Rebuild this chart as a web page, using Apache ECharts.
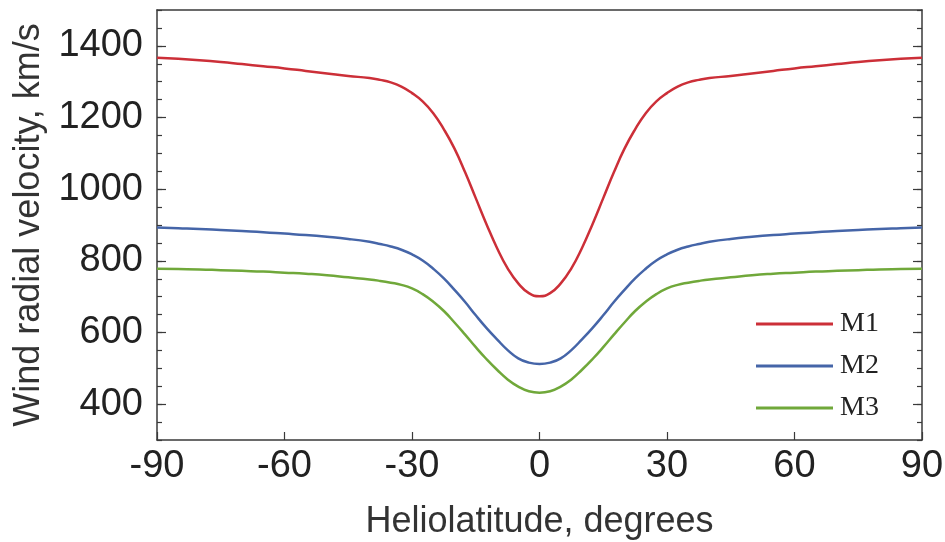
<!DOCTYPE html>
<html>
<head>
<meta charset="utf-8">
<script src="https://cdn.jsdelivr.net/npm/echarts@6/dist/echarts.min.js"></script>
<style>
html,body{margin:0;padding:0;background:#fff;}
#chart{width:945px;height:542px;}
</style>
</head>
<body>
<div id="chart"></div>
<script>
// Data
const latitudes = [-90,-85,-80,-75,-70,-65,-60,-55,-50,-45,-40,-37.5,-35,-32.5,-30,-27.5,-25,-22.5,-20,-17.5,-15,-12.5,-10,-7.5,-5,-2.5,0,2.5,5,7.5,10,12.5,15,17.5,20,22.5,25,27.5,30,32.5,35,37.5,40,45,50,55,60,65,70,75,80,85,90];
const m1 = [1367,1364,1360,1355,1349,1343,1337,1330,1323,1316,1310,1305,1298,1286,1268,1245,1212,1167,1113,1047,975,903,836,779,737,710,701,710,737,779,836,903,975,1047,1113,1167,1212,1245,1268,1286,1298,1305,1310,1316,1323,1330,1337,1343,1349,1355,1360,1364,1367];
const m2 = [893,891,889,886,883,880,876,872,867,861,853,847,840,831,818,801,778,751,719,685,648,613,581,551,528,516,512,516,528,551,581,613,648,685,719,751,778,801,818,831,840,847,853,861,867,872,876,880,883,886,889,891,893];
const m3 = [778,777,776,774,772,770,767,764,760,754,748,744,739,733,723,707,686,660,628,594,559,526,496,469,449,436,432,436,449,469,496,526,559,594,628,660,686,707,723,733,739,744,748,754,760,764,767,770,772,774,776,777,778];
const seriesNames = ['M1','M2','M3'];
const xTicks = [-90,-60,-30,0,30,60,90];
const yLabels = [400,600,800,1000,1200,1400];

const colors = ['#cc2f38','#4565a8','#70a83a'];
const pairs = arr => latitudes.map((x,i)=>[x,arr[i]]);
const sans = '"Liberation Sans", Arial, sans-serif';
const axisColor = '#3a3a3a';
const line = {show:true,onZero:false,lineStyle:{color:axisColor,width:1.5}};

const chart = echarts.init(document.getElementById('chart'));
const option = {
  backgroundColor:'#ffffff',
  animation:false,
  grid:{left:157,right:23,top:10,bottom:102,containLabel:false,outerBoundsMode:'none'},
  legend:{
    orient:'vertical',
    left:751, top:304,
    itemWidth:77, itemHeight:3, itemGap:12,
    icon:'rect',
    textStyle:{fontFamily:'"Liberation Serif","Times New Roman",serif',fontSize:28,color:'#222',lineHeight:30,padding:[0,0,0,2]},
    data:seriesNames
  },
  xAxis:[
    {type:'value',position:'bottom',min:-90,max:90,interval:30,
     axisLine:line,
     axisTick:{show:true,inside:true,length:8,lineStyle:{color:axisColor,width:1.2}},
     axisLabel:{fontFamily:sans,fontSize:38,color:'#222',margin:8,customValues:xTicks},
     splitLine:{show:false},
     name:'Heliolatitude, degrees',nameLocation:'middle',nameGap:64,
     nameTextStyle:{fontFamily:sans,fontSize:36,color:'#333'}},
    {type:'value',position:'top',min:-90,max:90,interval:30,
     axisLine:line,
     axisTick:{show:false},axisLabel:{show:false},splitLine:{show:false}}
  ],
  yAxis:[
    {type:'value',position:'left',min:300,max:1500,interval:50,
     axisLine:line,
     axisTick:{show:true,inside:true,length:5,lineStyle:{color:axisColor,width:1.2}},
     axisLabel:{show:false},splitLine:{show:false}},
    {type:'value',position:'left',min:300,max:1500,interval:100,
     axisLine:{show:false,onZero:false},
     axisTick:{show:true,inside:true,length:9,customValues:yLabels,lineStyle:{color:axisColor,width:1.2}},
     axisLabel:{fontFamily:sans,fontSize:38,color:'#222',margin:14,customValues:yLabels,
       formatter:v=> (v%200===0 && v>=400 && v<=1400) ? String(v) : ''},
     splitLine:{show:false},
     name:'Wind radial velocity, km/s',nameLocation:'middle',nameGap:106,
     nameTextStyle:{fontFamily:sans,fontSize:36,color:'#333'}},
    {type:'value',position:'right',min:300,max:1500,interval:50,
     axisLine:line,
     axisTick:{show:true,inside:true,length:5,lineStyle:{color:axisColor,width:1.2}},
     axisLabel:{show:false},splitLine:{show:false}},
    {type:'value',position:'right',min:300,max:1500,interval:100,
     axisLine:{show:false,onZero:false},
     axisTick:{show:true,inside:true,length:9,customValues:yLabels,lineStyle:{color:axisColor,width:1.2}},
     axisLabel:{show:false},splitLine:{show:false}}
  ],
  series:[m1,m2,m3].map((arr,i)=>({
    name:seriesNames[i],type:'line',xAxisIndex:0,yAxisIndex:0,
    data:pairs(arr),smooth:0.5,showSymbol:false,symbol:'none',
    lineStyle:{color:colors[i],width:2.5},itemStyle:{color:colors[i]}
  }))
};
chart.setOption(option);
</script>
</body>
</html>
